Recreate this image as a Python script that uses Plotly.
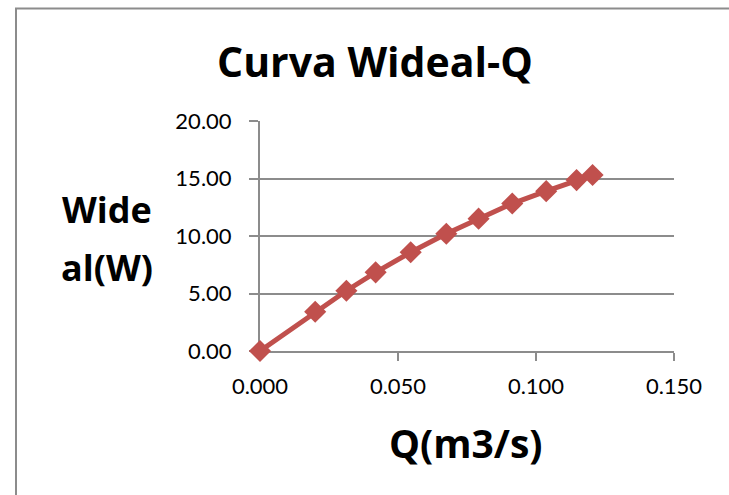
# Curva Wideal-Q chart rebuilt with Plotly
import plotly.graph_objects as go

# data
q_m3s = [0.0, 0.020, 0.0313, 0.0419, 0.0546, 0.0675, 0.0792, 0.0914, 0.1037, 0.1147, 0.1205]
w_ideal = [0.0, 3.41, 5.24, 6.84, 8.59, 10.20, 11.51, 12.82, 13.90, 14.86, 15.30]

x_ticks = [0.0, 0.05, 0.10, 0.15]
x_tick_labels = ["0.000", "0.050", "0.100", "0.150"]
y_ticks = [0, 5, 10, 15, 20]
y_tick_labels = ["0.00", "5.00", "10.00", "15.00", "20.00"]

red = "#C0504D"
grey = "#8C8C8C"
tick_family = "Lato, 'Open Sans', sans-serif"
title_family = "'Open Sans', Lato, sans-serif"

fig = go.Figure()

fig.add_trace(go.Scatter(
    x=q_m3s, y=w_ideal,
    mode="lines+markers",
    line=dict(color=red, width=5),
    marker=dict(symbol="diamond", size=17, color=red),
    cliponaxis=False,
))

# px -> paper helpers (plot area: x 260..674, y 121..350)
def px_x(px):
    return (px - 260) / 414

def px_y(py):
    return (350 - py) / 229

# chart border
fig.add_shape(
    type="rect", xref="paper", yref="paper",
    x0=px_x(16), x1=px_x(745), y0=px_y(515), y1=px_y(9),
    line=dict(color=grey, width=2), layer="below",
)

# title and axis titles
labels = [
    ("<b>Curva Wideal-Q</b>", 375, 61, 41),
    ("<b>Wide</b>", 107, 209, 36),
    ("<b>al(W)</b>", 107, 267, 36),
    ("<b>Q(m3/s)</b>", 466, 441, 39),
]
for text, cx, cy, size in labels:
    fig.add_annotation(x=px_x(cx), y=px_y(cy), text=text,
                       xanchor="center", yanchor="middle",
                       showarrow=False, xref="paper", yref="paper",
                       font=dict(size=size, color="black", family=title_family))

fig.update_xaxes(
    range=[0, 0.15], tickvals=x_ticks, ticktext=x_tick_labels,
    showgrid=False, zeroline=False, layer="below traces",
    showline=True, linecolor=grey, linewidth=2,
    ticks="outside", ticklen=8, tickwidth=2, tickcolor=grey,
    ticklabelstandoff=7,
    tickfont=dict(size=22, color="black", family=tick_family),
)
fig.update_yaxes(
    range=[0, 20], tickvals=y_ticks, ticktext=y_tick_labels,
    showgrid=True, gridcolor=grey, gridwidth=2, zeroline=False, layer="below traces",
    showline=True, linecolor=grey, linewidth=2,
    ticks="outside", ticklen=9, tickwidth=2, tickcolor=grey,
    ticklabelstandoff=13,
    tickfont=dict(size=22, color="black", family=tick_family),
)

fig.update_layout(
    width=729, height=495,
    margin=dict(l=260, r=55, t=121, b=144),
    showlegend=False,
    plot_bgcolor="white", paper_bgcolor="white",
)

fig.write_html("out.html", config={"displayModeBar": False},
               post_script="document.body.style.margin='0';")
